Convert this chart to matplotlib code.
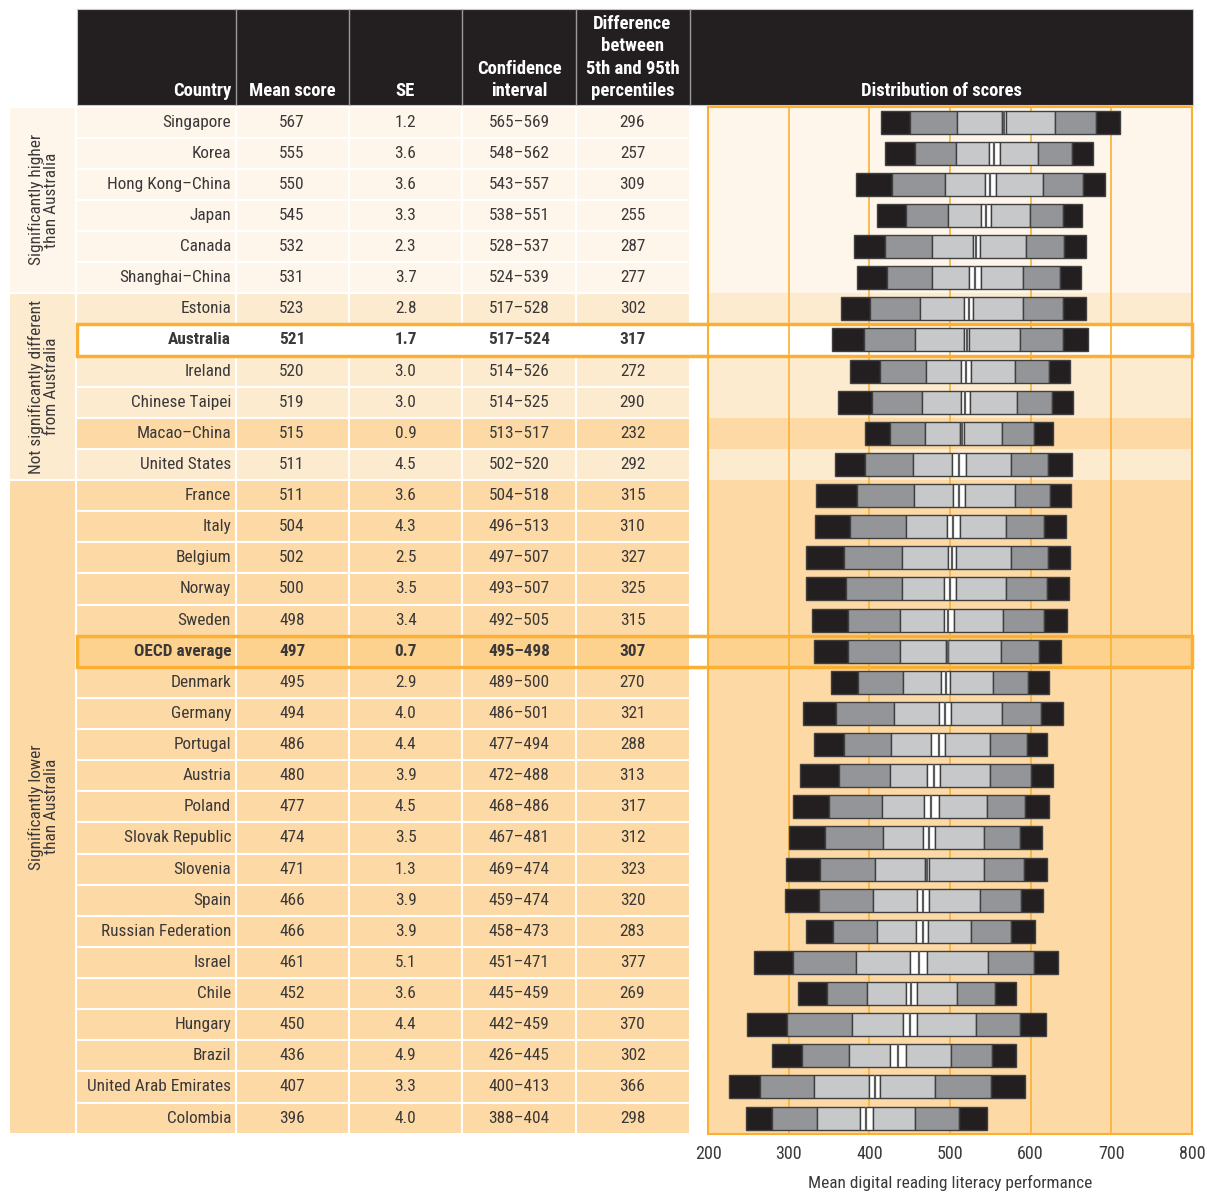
import matplotlib
matplotlib.use("Agg")
import matplotlib.pyplot as plt
import numpy as np
from matplotlib.patches import Rectangle

countries = [
    "Singapore", "Korea", "Hong Kong\u2013China", "Japan", "Canada", "Shanghai\u2013China",
    "Estonia", "Australia", "Ireland", "Chinese Taipei", "Macao\u2013China", "United States",
    "France", "Italy", "Belgium", "Norway", "Sweden", "OECD average", "Denmark", "Germany",
    "Portugal", "Austria", "Poland", "Slovak Republic", "Slovenia", "Spain",
    "Russian Federation", "Israel", "Chile", "Hungary", "Brazil", "United Arab Emirates", "Colombia",
]
mean_score = [567, 555, 550, 545, 532, 531, 523, 521, 520, 519, 515, 511, 511, 504, 502, 500, 498,
              497, 495, 494, 486, 480, 477, 474, 471, 466, 466, 461, 452, 450, 436, 407, 396]
se = [1.2, 3.6, 3.6, 3.3, 2.3, 3.7, 2.8, 1.7, 3.0, 3.0, 0.9, 4.5, 3.6, 4.3, 2.5, 3.5, 3.4,
      0.7, 2.9, 4.0, 4.4, 3.9, 4.5, 3.5, 1.3, 3.9, 3.9, 5.1, 3.6, 4.4, 4.9, 3.3, 4.0]
ci_low = [565, 548, 543, 538, 528, 524, 517, 517, 514, 514, 513, 502, 504, 496, 497, 493, 492,
          495, 489, 486, 477, 472, 468, 467, 469, 459, 458, 451, 445, 442, 426, 400, 388]
ci_high = [569, 562, 557, 551, 537, 539, 528, 524, 526, 525, 517, 520, 518, 513, 507, 507, 505,
           498, 500, 501, 494, 488, 486, 481, 474, 474, 473, 471, 459, 459, 445, 413, 404]
pct_diff = [296, 257, 309, 255, 287, 277, 302, 317, 272, 290, 232, 292, 315, 310, 327, 325, 315,
            307, 270, 321, 288, 313, 317, 312, 323, 320, 283, 377, 269, 370, 302, 366, 298]

# percentiles
p5 = [415, 420, 383, 409, 381, 385, 365, 354, 376, 361, 395, 357, 334, 333, 321, 321, 329,
      331, 352, 318, 331, 314, 305, 301, 297, 295, 321, 257, 312, 248, 279, 226, 247]
p10 = [451, 457, 428, 445, 419, 422, 401, 394, 413, 403, 425, 395, 385, 376, 368, 371, 374,
       374, 386, 359, 368, 362, 350, 345, 339, 337, 355, 305, 347, 298, 317, 265, 279]
p25 = [509, 507, 494, 497, 478, 478, 463, 457, 470, 465, 469, 454, 455, 446, 441, 440, 438,
       438, 442, 431, 427, 425, 416, 417, 407, 404, 409, 384, 397, 378, 375, 331, 335]
p75 = [630, 609, 615, 599, 594, 590, 590, 587, 580, 583, 565, 575, 580, 570, 575, 570, 566,
       563, 553, 564, 550, 549, 546, 542, 542, 537, 526, 547, 509, 532, 501, 482, 456]
p90 = [681, 651, 665, 640, 641, 636, 640, 640, 623, 627, 604, 622, 624, 617, 622, 620, 616,
       610, 597, 613, 595, 600, 593, 587, 592, 588, 576, 604, 556, 587, 552, 551, 511]
p95 = [711, 677, 692, 664, 668, 662, 668, 671, 649, 652, 628, 651, 650, 644, 649, 647, 645,
       638, 623, 640, 620, 628, 623, 614, 620, 615, 605, 634, 582, 619, 582, 593, 546]

group_labels = ["Significantly higher\nthan Australia",
                "Not significantly different\nfrom Australia",
                "Significantly lower\nthan Australia"]
group_rows = [(0, 6), (6, 12), (12, 33)]
highlight_rows = ["Australia", "OECD average"]
x_ticks = [200, 300, 400, 500, 600, 700, 800]

FONT = ["Liberation Sans Narrow", "DejaVu Sans Condensed", "Roboto Condensed", "Liberation Sans"]
plt.rcParams["font.family"] = FONT
TXT = "#3a3839"
ORANGE = "#FBB034"
GROUP_BG = ["#FEF6EA", "#FDEBD0", "#FDD9A5"]
FS = 12.4
HFS = 13.4

W, H = 1207, 1195
top, rh = 106.5, 31.125
n = len(countries)

row_bg = []
for i, name in enumerate(countries):
    g = [k for k, (a, b) in enumerate(group_rows) if a <= i < b][0]
    color = GROUP_BG[g]
    if name == "Australia":
        color = "white"
    elif name == "Macao\u2013China":
        color = GROUP_BG[2]
    elif name == "OECD average":
        color = "#FCD28E"
    row_bg.append(color)

fig = plt.figure(figsize=(W / 100, H / 100), dpi=100)

# table part, drawn in pixel space
bg = fig.add_axes([0, 0, 1, 1])
bg.set_xlim(0, W)
bg.set_ylim(H, 0)
bg.axis("off")

bg.add_patch(Rectangle((77, 9), 1193 - 77, 96, facecolor="#231F20", edgecolor="#c8c8c8", lw=0.8))
bg.vlines([235.5, 349, 462, 576, 690], 9, 105, color="#9a9a9a", lw=1)
head_kw = dict(color="white", fontsize=HFS, fontweight="bold", va="center")
bg.text(231, 91, "Country", ha="right", **head_kw)
bg.text(292, 91, "Mean score", ha="center", **head_kw)
bg.text(405.5, 91, "SE", ha="center", **head_kw)
bg.text(519, 69, "Confidence", ha="center", **head_kw)
bg.text(519, 91, "interval", ha="center", **head_kw)
for k, line in enumerate(["Difference", "between", "5th and 95th", "percentiles"]):
    bg.text(632.5, 24 + 22.4 * k, line, ha="center", **head_kw)
bg.text(941, 91, "Distribution of scores", ha="center", **head_kw)

for (a, b), label, color in zip(group_rows, group_labels, GROUP_BG):
    bg.add_patch(Rectangle((9, top + a * rh), 67, (b - a) * rh, facecolor=color,
                           edgecolor="white", lw=1.5))
    bg.text(43, top + (a + b) / 2 * rh, label, rotation=90, ha="center", va="center",
            fontsize=FS, color=TXT, linespacing=1.0)

cols = [(76, 235.5), (235.5, 349), (349, 462), (462, 576), (576, 690)]
for i in range(n):
    y0 = top + i * rh
    for x0, x1 in cols:
        bg.add_patch(Rectangle((x0, y0), x1 - x0, rh, facecolor=row_bg[i],
                               edgecolor="white", lw=1.5))
    yc = y0 + rh / 2
    fw = "bold" if countries[i] in highlight_rows else "normal"
    kw = dict(fontsize=FS, color=TXT, va="center", fontweight=fw)
    bg.text(231, yc, countries[i], ha="right", **kw)
    bg.text(292, yc, f"{mean_score[i]}", ha="center", **kw)
    bg.text(405.5, yc, f"{se[i]:.1f}", ha="center", **kw)
    bg.text(519, yc, f"{ci_low[i]}\u2013{ci_high[i]}", ha="center", **kw)
    bg.text(632.5, yc, f"{pct_diff[i]}", ha="center", **kw)

# distribution chart
x0, x1 = 708, 1192
bottom = top + n * rh
ax = fig.add_axes([x0 / W, 1 - bottom / H, (x1 - x0) / W, (bottom - top) / H])
ax.set_xlim(200, 800)
ax.set_ylim(n - 0.5, -0.5)
for i in range(n):
    ax.axhspan(i - 0.5, i + 0.5, color=row_bg[i], lw=0, zorder=0)
ax.set_xticks(x_ticks)
ax.set_yticks([])
ax.grid(axis="x", color=ORANGE, lw=1.2)
ax.set_axisbelow(True)
for s in ax.spines.values():
    s.set_color(ORANGE)
    s.set_linewidth(1.5)
ax.tick_params(axis="x", length=0, pad=8, labelsize=13, labelcolor=TXT)
ax.set_xlabel("Mean digital reading literacy performance", fontsize=FS, color=TXT, labelpad=9)

ys = np.arange(n)
segments = [
    (p5, p10, "#231F20"),
    (p10, p25, "#939598"),
    (p25, ci_low, "#C7C8CA"),
    (ci_low, ci_high, "white"),
    (ci_high, p75, "#C7C8CA"),
    (p75, p90, "#939598"),
    (p90, p95, "#231F20"),
]
bh = 0.74
for a, b, c in segments:
    ax.barh(ys, np.subtract(b, a), left=a, height=bh, color=c, edgecolor="#3f3f3f",
            linewidth=1.0, zorder=3)
ax.vlines(mean_score, ys - bh / 2, ys + bh / 2, color="#5a5a5a", lw=1.6, zorder=4)

for name in highlight_rows:
    i = countries.index(name)
    fig.add_artist(Rectangle((77, top + i * rh), x1 - 77, rh, transform=bg.transData,
                             fill=False, edgecolor=ORANGE, lw=2.5, zorder=10))

fig.savefig("out.png", dpi=100)
